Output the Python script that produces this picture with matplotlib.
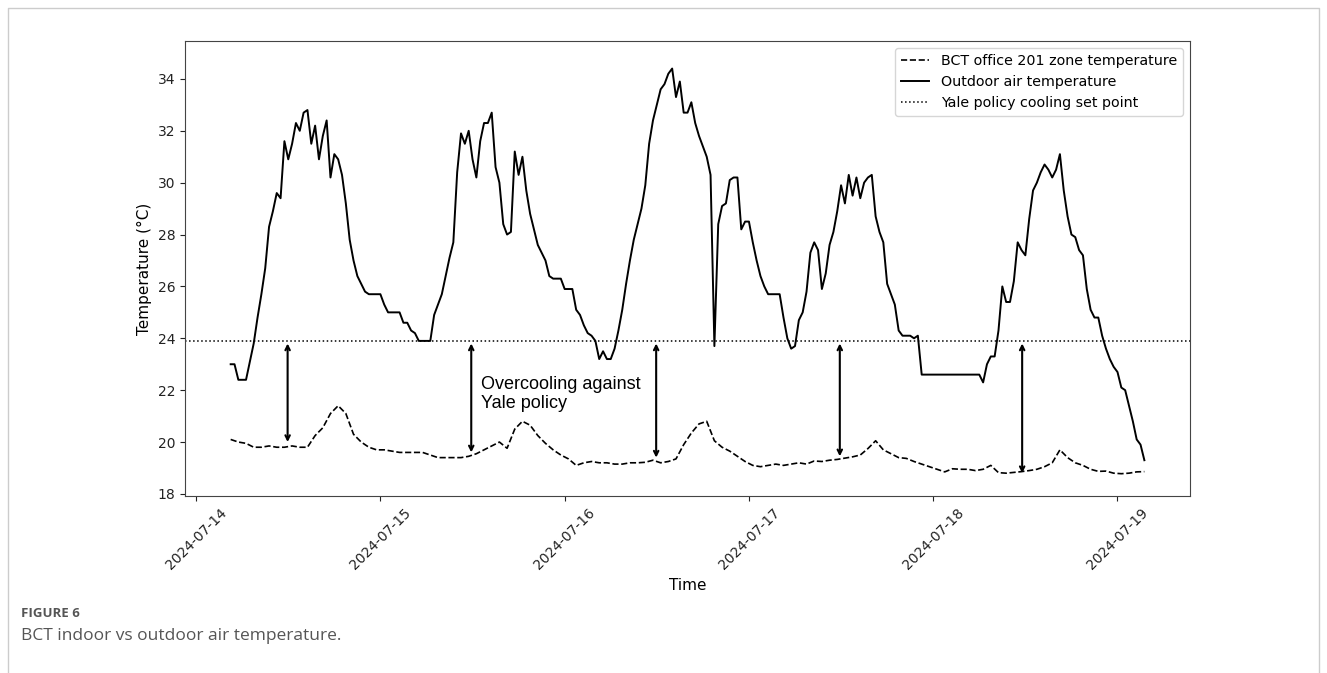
import matplotlib
matplotlib.use("Agg")
import matplotlib.pyplot as plt
import matplotlib.dates as mdates
import pandas as pd

# outdoor air temperature, 30-min samples from 2024-07-14 04:30
outdoor_start = "2024-07-14 04:30"
outdoor_temp = [
    23.0, 23.0, 22.4, 22.4, 22.4, 23.1, 23.8, 24.8, 25.7, 26.7, 28.3, 28.9,
    29.6, 29.4, 31.6, 30.9, 31.5, 32.3, 32.0, 32.7, 32.8, 31.5, 32.2, 30.9,
    31.8, 32.4, 30.2, 31.1, 30.9, 30.3, 29.2, 27.8, 27.0, 26.4, 26.1, 25.8,
    25.7, 25.7, 25.7, 25.7, 25.3, 25.0, 25.0, 25.0, 25.0, 24.6, 24.6, 24.3,
    24.2, 23.9, 23.9, 23.9, 23.9, 24.9, 25.3, 25.7, 26.4, 27.1, 27.7, 30.4,
    31.9, 31.5, 32.0, 30.9, 30.2, 31.6, 32.3, 32.3, 32.7, 30.6, 30.0, 28.4,
    28.0, 28.1, 31.2, 30.3, 31.0, 29.7, 28.8, 28.2, 27.6, 27.3, 27.0, 26.4,
    26.3, 26.3, 26.3, 25.9, 25.9, 25.9, 25.1, 24.9, 24.5, 24.2, 24.1, 23.9,
    23.2, 23.5, 23.2, 23.2, 23.6, 24.3, 25.1, 26.1, 27.0, 27.8, 28.4, 29.0,
    29.9, 31.5, 32.4, 33.0, 33.6, 33.8, 34.2, 34.4, 33.3, 33.9, 32.7, 32.7,
    33.1, 32.3, 31.8, 31.4, 31.0, 30.3, 23.7, 28.4, 29.1, 29.2, 30.1, 30.2,
    30.2, 28.2, 28.5, 28.5, 27.7, 27.0, 26.4, 26.0, 25.7, 25.7, 25.7, 25.7,
    24.8, 24.0, 23.6, 23.7, 24.7, 25.0, 25.8, 27.3, 27.7, 27.4, 25.9, 26.5,
    27.6, 28.1, 28.9, 29.9, 29.2, 30.3, 29.5, 30.2, 29.4, 30.0, 30.2, 30.3,
    28.7, 28.1, 27.7, 26.1, 25.7, 25.3, 24.3, 24.1, 24.1, 24.1, 24.0, 24.1,
    22.6, 22.6, 22.6, 22.6, 22.6, 22.6, 22.6, 22.6, 22.6, 22.6, 22.6, 22.6,
    22.6, 22.6, 22.6, 22.6, 22.3, 23.0, 23.3, 23.3, 24.3, 26.0, 25.4, 25.4,
    26.2, 27.7, 27.4, 27.2, 28.6, 29.7, 30.0, 30.4, 30.7, 30.5, 30.2, 30.5,
    31.1, 29.7, 28.7, 28.0, 27.9, 27.4, 27.2, 25.9, 25.1, 24.8, 24.8, 24.1,
    23.6, 23.2, 22.9, 22.7, 22.1, 22.0, 21.4, 20.8, 20.1, 19.9, 19.3,
]

# BCT office 201 zone temperature, hourly from 2024-07-14 04:30
zone_start = "2024-07-14 04:30"
zone_temp = [
    20.1, 20.0, 19.95, 19.8, 19.8, 19.85, 19.8, 19.8, 19.85, 19.8,
    19.8, 20.25, 20.55, 21.1, 21.4, 21.1, 20.3, 20.0, 19.8, 19.7,
    19.7, 19.65, 19.6, 19.6, 19.6, 19.6, 19.5, 19.4, 19.4, 19.4,
    19.4, 19.45, 19.55, 19.7, 19.85, 20.0, 19.76, 20.5, 20.8, 20.65,
    20.25, 19.95, 19.7, 19.5, 19.35, 19.1, 19.2, 19.25, 19.2, 19.2,
    19.15, 19.15, 19.2, 19.2, 19.22, 19.3, 19.2, 19.25, 19.35, 19.9,
    20.35, 20.7, 20.8, 20.05, 19.8, 19.65, 19.45, 19.25, 19.1, 19.05,
    19.1, 19.15, 19.1, 19.15, 19.2, 19.15, 19.27, 19.25, 19.3, 19.33,
    19.38, 19.43, 19.5, 19.75, 20.05, 19.7, 19.55, 19.4, 19.37, 19.25,
    19.15, 19.05, 18.95, 18.85, 18.97, 18.95, 18.95, 18.9, 18.95, 19.1,
    18.82, 18.8, 18.83, 18.86, 18.9, 18.95, 19.05, 19.2, 19.7, 19.4,
    19.2, 19.1, 18.95, 18.87, 18.88, 18.8, 18.78, 18.8, 18.85, 18.86,
]

setpoint = 23.89  # 75 F

# overcooling arrows (time, zone value at arrow foot)
arrow_times = ["2024-07-14 11:55", "2024-07-15 11:50", "2024-07-16 11:55",
               "2024-07-17 11:50", "2024-07-18 11:35"]
arrow_low = [20.0, 19.6, 19.4, 19.45, 18.8]
arrow_high = 23.8

outdoor_time = pd.date_range(outdoor_start, periods=len(outdoor_temp), freq="30min")
zone_time = pd.date_range(zone_start, periods=len(zone_temp), freq="60min")

fig = plt.figure(figsize=(13.27, 6.73), dpi=100)
ax = fig.add_axes([0.1394, 0.263, 0.7574, 0.676])

ax.plot(zone_time, zone_temp, color="black", linestyle="--", linewidth=1.2,
        label="BCT office 201 zone temperature")
ax.plot(outdoor_time, outdoor_temp, color="black", linestyle="-", linewidth=1.4,
        label="Outdoor air temperature")
ax.axhline(setpoint, color="black", linestyle=":", linewidth=1.1,
           label="Yale policy cooling set point")

for t, low in zip(arrow_times, arrow_low):
    tx = mdates.date2num(pd.Timestamp(t))
    ax.annotate("", xy=(tx, low), xytext=(tx, arrow_high),
                arrowprops=dict(arrowstyle="<->", color="black", lw=1.5,
                                shrinkA=0, shrinkB=0, mutation_scale=8))

ax.text(mdates.date2num(pd.Timestamp("2024-07-15 13:10")), 21.85,
        "Overcooling against\nYale policy", fontsize=13,
        family="Liberation Sans", ha="left", va="center")

ax.set_ylim(17.92, 35.46)
ax.set_yticks(range(18, 35, 2))
ax.xaxis.set_major_locator(mdates.DayLocator())
ax.xaxis.set_major_formatter(mdates.DateFormatter("%Y-%m-%d"))
plt.setp(ax.get_xticklabels(), rotation=45, ha="center")
ax.tick_params(labelsize=10, colors="#222222")
ax.set_xlabel("Time", fontsize=11)
ax.set_ylabel("Temperature (°C)", fontsize=11)
for s in ax.spines.values():
    s.set_color("#444444")

ax.legend(loc="upper right", fontsize=10.3)

# journal frame and caption
fig.add_artist(plt.Line2D([0.006, 0.006, 0.994, 0.994], [0.0, 0.988, 0.988, 0.0],
                          transform=fig.transFigure, color="#cccccc", lw=1))
fig.text(0.016, 0.083, "FIGURE 6", fontsize=9.5, fontweight="bold",
         color="#555555", family="Open Sans")
fig.text(0.016, 0.049, "BCT indoor vs outdoor air temperature.", fontsize=12.5,
         color="#555555", family="Open Sans")

fig.savefig("out.png", dpi=100)
